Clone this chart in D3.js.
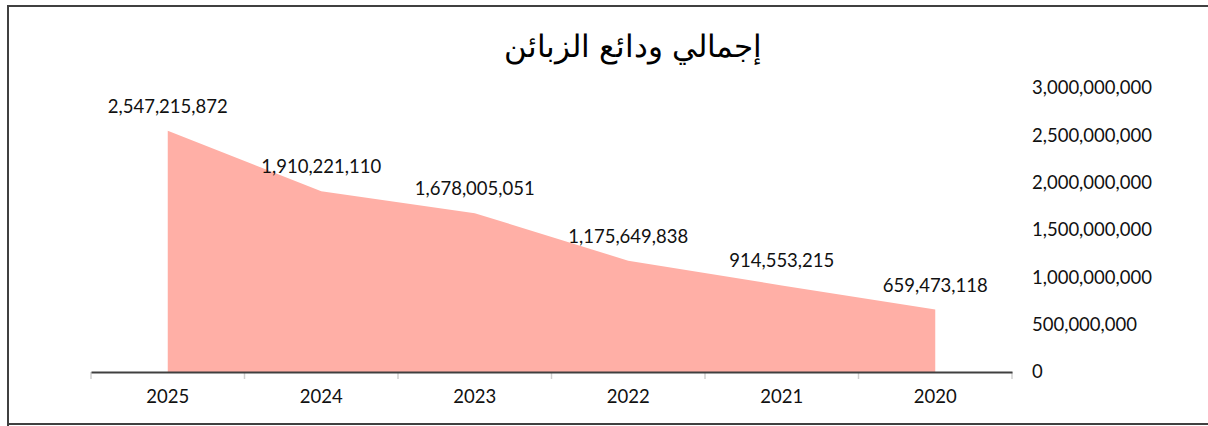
<!DOCTYPE html>
<html><head><meta charset="utf-8">
<script src="https://cdn.jsdelivr.net/npm/d3@7/dist/d3.min.js"></script>
<style>body{margin:0;background:#fff}svg{display:block}</style>
</head><body>
<svg id="c" width="1208" height="426"></svg>
<script>
const title = "إجمالي ودائع الزبائن";
const years = ["2025","2024","2023","2022","2021","2020"];
const deposits = [2547215872, 1910221110, 1678005051, 1175649838, 914553215, 659473118];
const yTicks = [0, 500000000, 1000000000, 1500000000, 2000000000, 2500000000, 3000000000];

const svg = d3.select("#c");
const numFont = "Lato, 'Open Sans', sans-serif";
const fmt = d3.format(",");

// frame
svg.append("path").attr("d","M8,426 L8,6 L1210,6 M8,424 L1210,424")
  .attr("fill","none").attr("stroke","#404040").attr("stroke-width",2);

// title
svg.append("text").attr("x",633).attr("y",57).attr("text-anchor","middle")
  .attr("font-family","'Liberation Sans', 'DejaVu Sans', sans-serif").attr("font-size",31)
  .attr("font-weight",300)
  .attr("fill","#000").text(title);

const x = d3.scaleBand().domain(years).range([91,1012]).padding(0);
const y = d3.scaleLinear().domain([0,3000000000]).range([372,88]);
const cx = d => x(d) + x.bandwidth()/2;

const data = years.map((yr,i)=>({yr, v:deposits[i]}));

// area
const area = d3.area().x(d=>cx(d.yr)).y0(y(0)).y1(d=>y(d.v));
svg.append("path").datum(data).attr("d",area).attr("fill","#FFAFA6");

// y labels
svg.append("g").selectAll("text").data(yTicks).join("text")
  .attr("x",1032).attr("y",d=>y(d)).attr("dy","0.35em")
  .attr("font-family",numFont).attr("font-size",18.5).attr("fill","#111")
  .text(d=>fmt(d));

// x axis tick marks at band edges
const edges = years.map(d=>x(d)).concat([x.range()[1]]);
svg.append("g").selectAll("line").data(edges).join("line")
  .attr("x1",d=>d).attr("x2",d=>d).attr("y1",372).attr("y2",379)
  .attr("stroke","#d0d0d0").attr("stroke-width",1.5);
// x axis with labels
const xAxis = svg.append("g").attr("transform","translate(0,372)")
  .call(d3.axisBottom(x).tickSize(0).tickPadding(18));
xAxis.select(".domain").attr("stroke","#404040").attr("stroke-width",2);
xAxis.selectAll("text").attr("font-family",numFont).attr("font-size",18.5).attr("fill","#111");

// data labels
svg.append("g").selectAll("text").data(data).join("text")
  .attr("x",d=>cx(d.yr)).attr("y",d=>y(d.v)-18).attr("text-anchor","middle")
  .attr("font-family",numFont).attr("font-size",18.5).attr("fill","#111")
  .text(d=>fmt(d.v));
</script>
</body></html>
